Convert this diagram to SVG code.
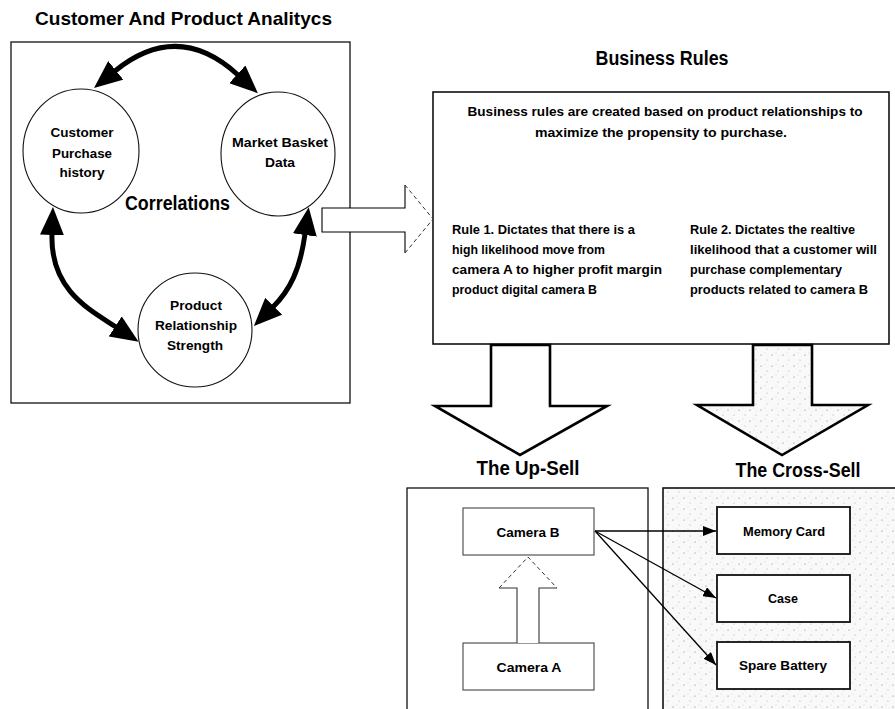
<svg xmlns="http://www.w3.org/2000/svg" width="895" height="709" viewBox="0 0 895 709">
<style>
text{font-family:"Liberation Sans",Arial,sans-serif;font-weight:bold;fill:#000}
.t13{font-size:13.5px}
.t14{font-size:13.5px}
.title{font-size:19px}
.box{fill:#fff;stroke:#111;stroke-width:1.3}
.circ{fill:#fff;stroke:#111;stroke-width:1.1}
.thick{fill:none;stroke:#000;stroke-width:5}
.thin{fill:none;stroke:#000;stroke-width:1.3}
.soft{fill:#fff;stroke:#444;stroke-width:1.1}
.dash{fill:none;stroke:#333;stroke-width:1;stroke-dasharray:4 3}
.big{stroke:#000;stroke-width:2.6;stroke-linejoin:miter}
.solid{fill:#fff;stroke:#111;stroke-width:1.8}
</style>
<defs>
<pattern id="stip" width="11" height="11" patternUnits="userSpaceOnUse">
<rect width="11" height="11" fill="#f9f9f9"/>
<circle cx="2" cy="3" r="0.6" fill="#777"/>
<circle cx="8" cy="8" r="0.5" fill="#999"/>
<circle cx="6" cy="1" r="0.4" fill="#aaa"/>
<circle cx="9" cy="4" r="0.35" fill="#bbb"/>
</pattern>
<marker id="bigHead" markerUnits="userSpaceOnUse" markerWidth="28" markerHeight="24" viewBox="0 0 28 24" refX="1" refY="12" orient="auto-start-reverse">
<path d="M0,0 L28,12 L0,24 z" fill="#000"/>
</marker>
<marker id="smallHead" markerUnits="userSpaceOnUse" markerWidth="13" markerHeight="10" viewBox="0 0 13 10" refX="13" refY="5" orient="auto">
<path d="M0,0 L13,5 L0,10 z" fill="#000"/>
</marker>
</defs>

<rect width="895" height="709" fill="#fff"/>

<!-- Left panel -->
<g id="analytics">
<text class="title" x="35" y="25" textLength="297" lengthAdjust="spacingAndGlyphs">Customer And Product Analitycs</text>
<rect class="box" x="11" y="42" width="339" height="361"/>
</g>
<g id="customer-purchase-history">
<ellipse class="circ" cx="81" cy="151" rx="58" ry="62"/>
<text class="t13" x="82" y="137" text-anchor="middle" textLength="63" lengthAdjust="spacingAndGlyphs">Customer</text>
<text class="t13" x="82" y="158" text-anchor="middle" textLength="60" lengthAdjust="spacingAndGlyphs">Purchase</text>
<text class="t13" x="82" y="177" text-anchor="middle" textLength="45" lengthAdjust="spacingAndGlyphs">history</text>
</g>
<g id="market-basket-data">
<ellipse class="circ" cx="278" cy="154" rx="57" ry="62"/>
<text class="t13" x="280" y="147" text-anchor="middle" textLength="96" lengthAdjust="spacingAndGlyphs">Market Basket</text>
<text class="t13" x="280" y="167" text-anchor="middle" textLength="30" lengthAdjust="spacingAndGlyphs">Data</text>
</g>
<g id="product-relationship-strength">
<ellipse class="circ" cx="195" cy="330" rx="57" ry="57"/>
<text class="t13" x="196" y="310" text-anchor="middle" textLength="52" lengthAdjust="spacingAndGlyphs">Product</text>
<text class="t13" x="196" y="330" text-anchor="middle" textLength="82" lengthAdjust="spacingAndGlyphs">Relationship</text>
<text class="t13" x="195" y="350" text-anchor="middle" textLength="56" lengthAdjust="spacingAndGlyphs">Strength</text>
</g>
<g id="correlations-label">
<text x="125" y="210" style="font-size:20px" textLength="105" lengthAdjust="spacingAndGlyphs">Correlations</text>
</g>

<!-- Business rules -->
<g id="business-rules">
<text x="662" y="65" text-anchor="middle" style="font-size:20px" textLength="133" lengthAdjust="spacingAndGlyphs">Business Rules</text>
<rect class="box" x="433" y="92" width="456" height="252" style="stroke-width:1.6"/>
<text class="t14" x="665" y="116" text-anchor="middle" textLength="395" lengthAdjust="spacingAndGlyphs">Business rules are created based on product relationships to</text>
<text class="t14" x="661" y="137" text-anchor="middle" textLength="252" lengthAdjust="spacingAndGlyphs">maximize the propensity to purchase.</text>
<text class="t13" x="452" y="234" textLength="183" lengthAdjust="spacingAndGlyphs">Rule 1. Dictates that there is a</text>
<text class="t13" x="452" y="254" textLength="153" lengthAdjust="spacingAndGlyphs">high likelihood move from</text>
<text class="t13" x="452" y="274" textLength="210" lengthAdjust="spacingAndGlyphs">camera A to higher profit margin</text>
<text class="t13" x="452" y="294" textLength="145" lengthAdjust="spacingAndGlyphs">product digital camera B</text>
<text class="t13" x="690" y="234" textLength="165" lengthAdjust="spacingAndGlyphs">Rule 2. Dictates the realtive</text>
<text class="t13" x="690" y="254" textLength="187" lengthAdjust="spacingAndGlyphs">likelihood that a customer will</text>
<text class="t13" x="690" y="274" textLength="152" lengthAdjust="spacingAndGlyphs">purchase complementary</text>
<text class="t13" x="690" y="294" textLength="178" lengthAdjust="spacingAndGlyphs">products related  to camera B</text>
</g>

<!-- Up-sell panel -->
<g id="up-sell">
<text x="528" y="475" text-anchor="middle" style="font-size:21px" textLength="103" lengthAdjust="spacingAndGlyphs">The Up-Sell</text>
<rect class="box" x="407" y="488" width="241" height="230"/>
</g>
<g id="camera-b">
<rect class="soft" x="463" y="508" width="131" height="47"/>
<text class="t13" x="528" y="537" text-anchor="middle" textLength="63" lengthAdjust="spacingAndGlyphs">Camera B</text>
</g>
<g id="camera-a">
<rect class="soft" x="463" y="643" width="131" height="47"/>
<text class="t13" x="529" y="672" text-anchor="middle" textLength="65" lengthAdjust="spacingAndGlyphs">Camera A</text>
</g>

<!-- Cross-sell panel -->
<g id="cross-sell">
<text x="798" y="477" text-anchor="middle" style="font-size:21px" textLength="125" lengthAdjust="spacingAndGlyphs">The Cross-Sell</text>
<rect x="663" y="488" width="240" height="230" fill="url(#stip)" stroke="#111" stroke-width="1.6"/>
</g>
<g id="memory-card">
<rect class="solid" x="717" y="507" width="133" height="47"/>
<text class="t13" x="784" y="536" text-anchor="middle" textLength="82" lengthAdjust="spacingAndGlyphs">Memory Card</text>
</g>
<g id="case">
<rect class="solid" x="717" y="575" width="133" height="47"/>
<text class="t13" x="783" y="603" text-anchor="middle" textLength="30" lengthAdjust="spacingAndGlyphs">Case</text>
</g>
<g id="spare-battery">
<rect class="solid" x="717" y="642" width="133" height="47"/>
<text class="t13" x="783" y="670" text-anchor="middle" textLength="88" lengthAdjust="spacingAndGlyphs">Spare Battery</text>
</g>

<!-- Connectors -->
<g id="connectors">
<path class="thick" d="M115 71 Q178 20 238 75" marker-start="url(#bigHead)" marker-end="url(#bigHead)"/>
<path class="thick" d="M52 234 C50 290 90 310 116 327" marker-start="url(#bigHead)" marker-end="url(#bigHead)"/>
<path class="thick" d="M305 234 C300 270 290 290 273 307" marker-start="url(#bigHead)" marker-end="url(#bigHead)"/>

<g id="to-business-rules">
<polygon points="322,208 405,208 405,185 433,219 405,253 405,232 322,232" fill="#fff"/>
<polyline class="thin" points="405,185 405,208 322,208 322,232 405,232 405,253" style="stroke-width:1.1"/>
<polyline class="dash" points="405,185 433,219 405,253"/>
</g>

<polygon class="big" fill="#fff" points="491,345 550,345 550,406 607,406 520,455 435,406 491,406"/>
<polygon class="big" fill="url(#stip)" points="753,345 812,345 812,405 868,405 782,455 697,405 753,405"/>

<g id="upsell-arrow">
<polygon points="517,643 517,588 499,588 528,557 557,588 539,588 539,643" fill="#fff"/>
<polyline points="517,643 517,588 499,588" fill="none" stroke="#333" stroke-width="1.1"/>
<polyline points="539,643 539,588 557,588" fill="none" stroke="#333" stroke-width="1.1"/>
<polyline class="dash" points="499,588 528,557 557,588"/>
</g>

<line class="thin" x1="595" y1="531" x2="716" y2="531" marker-end="url(#smallHead)"/>
<line class="thin" x1="595" y1="531" x2="716" y2="598" marker-end="url(#smallHead)"/>
<line class="thin" x1="595" y1="531" x2="716" y2="665" marker-end="url(#smallHead)"/>
</g>
</svg>
